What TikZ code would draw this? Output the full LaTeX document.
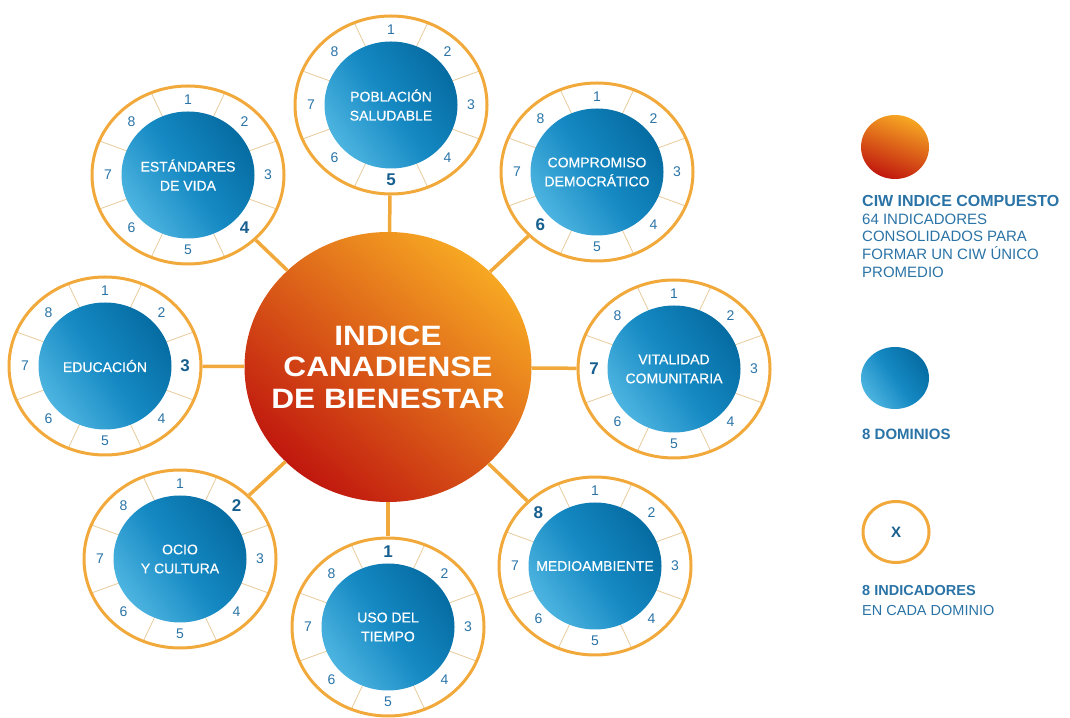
\documentclass[tikz,border=0pt]{standalone}
\usepackage{fontspec}
\setmainfont{Liberation Sans}
\newfontfamily\anchafont[FakeStretch=1.13]{Liberation Sans}
\newfontfamily\etiquetafont[FakeBold=0.4]{Liberation Sans}
\usepackage{tikz}
\usetikzlibrary{shapes, positioning, calc}
\definecolor{anaranjado}{HTML}{F2A93B}
\definecolor{lineatenue}{HTML}{E8CB9C}
\definecolor{azulclaro}{HTML}{4DB4E0}
\definecolor{azulmedio}{HTML}{1589C3}
\definecolor{azuloscuro}{HTML}{066CA2}
\definecolor{naranjaclaro}{HTML}{F7A823}
\definecolor{rojizo}{HTML}{C0170E}
\definecolor{azultexto}{HTML}{2A73A6}
\definecolor{azulfuerte}{HTML}{175F8F}
\tikzstyle{anillo} = [ellipse, draw=anaranjado, line width=3pt, minimum width=192pt, minimum height=178pt, inner sep=0pt]
\tikzstyle{dominio} = [ellipse, top color=azuloscuro, bottom color=azulclaro, middle color=azulmedio, shading angle=-55, minimum width=133pt, minimum height=127pt, inner sep=0pt]
\tikzstyle{etiqueta} = [text=white, font=\etiquetafont\fontsize{14}{19}\selectfont, align=center, inner sep=0pt]
\tikzstyle{numero} = [text=azultexto, font=\fontsize{14}{16}\selectfont, inner sep=0pt]
\tikzstyle{numfuerte} = [text=azulfuerte, font=\fontsize{17}{18}\selectfont\bfseries, inner sep=0pt]
\tikzstyle{divisor} = [draw=lineatenue, line width=0.8pt]
\tikzstyle{conector} = [draw=anaranjado, line width=3.5pt]
\tikzstyle{indice} = [ellipse, top color=naranjaclaro, bottom color=rojizo, shading angle=-40, minimum width=287pt, minimum height=270pt, inner sep=0pt]
\tikzstyle{titulo} = [text=white, font=\anchafont\fontsize{28}{31.5}\selectfont\bfseries, align=center, inner sep=0pt]
\tikzstyle{leyenda} = [anchor=north west, inner sep=0pt, text=azultexto, align=left]

% #1 nombre, #2 posicion, #3 texto, #4 indicador hacia el centro
\newcommand{\dominio}[4]{%
  \coordinate (#1) at (#2);
  \foreach \k in {1,...,8}
    \draw[divisor] ($(#1)+({112.5-45*\k}:64pt and 61pt)$) -- ($(#1)+({112.5-45*\k}:96pt and 89pt)$);
  \node[dominio] (#1-dom) at (#1) {};
  \node[etiqueta] (#1-txt) at (#1) {#3};
  \node[anillo] (#1-anillo) at (#1) {};
  \foreach \k in {1,...,8}{
    \ifnum\k=#4
      \node[numfuerte] (#1-\k) at ($(#1)+({135-45*\k}:80pt and 75pt)$) {\k};
    \else
      \node[numero] (#1-\k) at ($(#1)+({135-45*\k}:80pt and 75pt)$) {\k};
    \fi}
}

\begin{document}
\begin{tikzpicture}[x=1pt, y=1pt]
  \useasboundingbox (0,0) rectangle (1070,717);

  \node[indice] (centro) at (388,350) {};
  \node[titulo] (centro-txt) at (centro) {INDICE\\CANADIENSE\\DE BIENESTAR};

  \dominio{pob}{391,612}{POBLACIÓN\\SALUDABLE}{5}
  \dominio{est}{188,542}{ESTÁNDARES\\DE VIDA}{4}
  \dominio{com}{597,545}{COMPROMISO\\DEMOCRÁTICO}{6}
  \dominio{edu}{105,351}{EDUCACIÓN}{3}
  \dominio{vit}{674,348}{VITALIDAD\\COMUNITARIA}{7}
  \dominio{ocio}{180,158}{OCIO\\Y CULTURA}{2}
  \dominio{uso}{388,90}{USO DEL\\TIEMPO}{1}
  \dominio{med}{595,151}{MEDIOAMBIENTE}{8}

  \draw[conector] (centro) -- (pob-anillo);
  \draw[conector] (centro) -- (est-anillo);
  \draw[conector] (centro) -- (com-anillo);
  \draw[conector] (centro) -- (edu-anillo);
  \draw[conector] (centro) -- (vit-anillo);
  \draw[conector] (centro) -- (ocio-anillo);
  \draw[conector] (centro) -- (uso-anillo);
  \draw[conector] (centro) -- (med-anillo);

  % leyenda
  \node[indice, minimum width=68pt, minimum height=64pt, shading angle=-20] (ley-indice) at (895,570) {};
  \node[leyenda, font=\fontsize{15}{17.7}\selectfont] (ley-indice-txt) at (862,522)
    {{\fontsize{16}{17.7}\selectfont\bfseries CIW INDICE COMPUESTO}\\64 INDICADORES\\CONSOLIDADOS PARA\\FORMAR UN CIW ÚNICO\\PROMEDIO};
  \node[dominio, minimum width=68pt, minimum height=62pt] (ley-dominio) at (895,339) {};
  \node[leyenda, font=\fontsize{15}{17}\selectfont\bfseries] (ley-dominio-txt) at (862,288) {8 DOMINIOS};
  \node[anillo, minimum width=66pt, minimum height=61pt, text=azulfuerte, font=\fontsize{15}{17}\selectfont\bfseries] (ley-anillo) at (896,185) {X};
  \node[leyenda, font=\fontsize{14.5}{20.5}\selectfont] (ley-anillo-txt) at (862,132)
    {{\bfseries 8 INDICADORES}\\EN CADA DOMINIO};
\end{tikzpicture}
\end{document}
